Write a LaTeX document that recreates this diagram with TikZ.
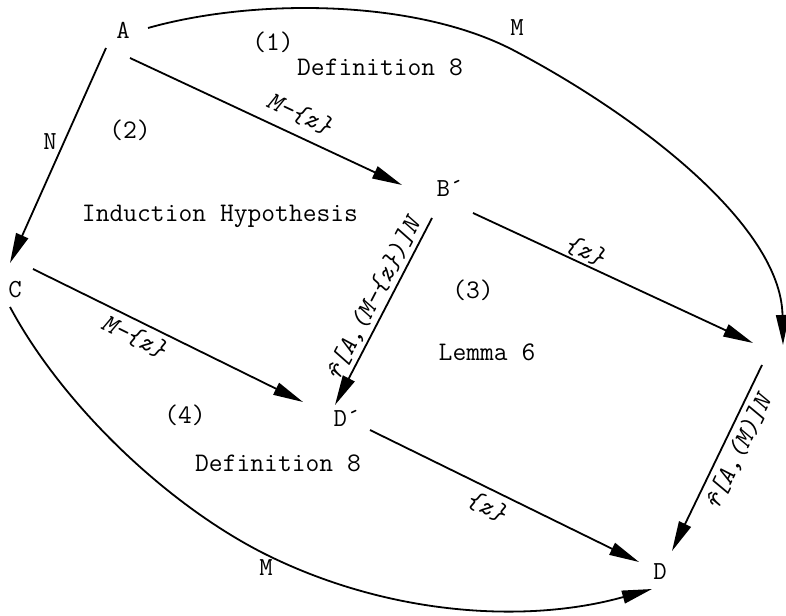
\documentclass[tikz,border=0pt]{standalone}
\usepackage{fontspec}
\setmonofont{Latin Modern Mono}
\usetikzlibrary{arrows.meta,calc}
\begin{document}
\begin{tikzpicture}[x=0.5pt,y=-0.5pt,
  txt/.style={font=\fontsize{13.4}{16}\selectfont\ttfamily, inner sep=0pt},
  pnt/.style={font=\fontsize{13}{15}\selectfont\ttfamily, inner sep=0pt},
  elab/.style={font=\fontsize{13}{15}\selectfont\ttfamily\itshape, sloped, inner sep=0pt},
  arr/.style={line width=0.9pt, -{Triangle[length=15pt,width=6.5pt]}},
]
\useasboundingbox (0,0) rectangle (786,615);

% points
\node[pnt] (A)  at (123,30)  {A};
\node[pnt] (B)  at (450,188) {B´};
\node[pnt] (C)  at (15,290)  {C};
\node[pnt] (Dp) at (347,418) {D´};
\node[pnt] (D)  at (660,572) {D};
\coordinate (R) at (765,350);

% region texts
\node[txt] (t1) at (273,42)  {(1)};
\node[txt] (t2) at (380,67)  {Definition 8};
\node[txt] (t3) at (130,130) {(2)};
\node[txt] (t4) at (220,216) {Induction Hypothesis};
\node[txt] (t5) at (473,290) {(3)};
\node[txt] (t6) at (487,352) {Lemma 6};
\node[txt] (t7) at (185,415) {(4)};
\node[txt] (t8) at (278,463) {Definition 8};

% straight arrows
\draw[arr] ($(A)+(7,28)$) -- ($(B)+(-48,-3)$)
  node[elab, pos=0.59, above=5pt] {M-\{z\}};
\draw[arr] ($(A)+(-17,18)$) -- ($(C)+(-5,-27)$);
\node[pnt] (N) at (50,142) {N};
\draw[arr] ($(B)+(-18,30)$) -- ($(Dp)+(-12,-13)$)
  node[elab, pos=0.47, above=1.5pt] {\^{r}[A,(M-\{z\})]N};
\draw[arr] ($(B)+(23,25)$) -- ($(R)+(-12,-7)$)
  node[elab, pos=0.38, above=1pt] {\{z\}};
\draw[arr] ($(C)+(18,-21)$) -- ($(Dp)+(-44,-16)$)
  node[elab, pos=0.40, below=2.5pt] {M-\{z\}};
\draw[arr] ($(Dp)+(23,12)$) -- ($(D)+(-21,-10)$)
  node[elab, pos=0.46, below=3pt] {\{z\}};
\draw[arr] ($(R)+(-3,15)$) -- ($(D)+(12,-21)$)
  node[elab, pos=0.43, below=2.5pt] {\^{r}[A,(M)]N};

% curved arrows
\draw[arr] ($(A)+(25,-2)$) .. controls (254,-2) and (415,-1) .. (513,50)
  .. controls (637,115) and (781,225) .. ($(R)+(18,-5)$);
\node[pnt] (Mt) at (517,28) {M};

\draw[arr] ($(C)+(-5,17)$) .. controls (62,404) and (165,503) .. (263,553)
  .. controls (388,616) and (527,624) .. ($(D)+(-8,17)$);
\node[pnt] (Mb) at (266,568) {M};
\end{tikzpicture}
\end{document}
